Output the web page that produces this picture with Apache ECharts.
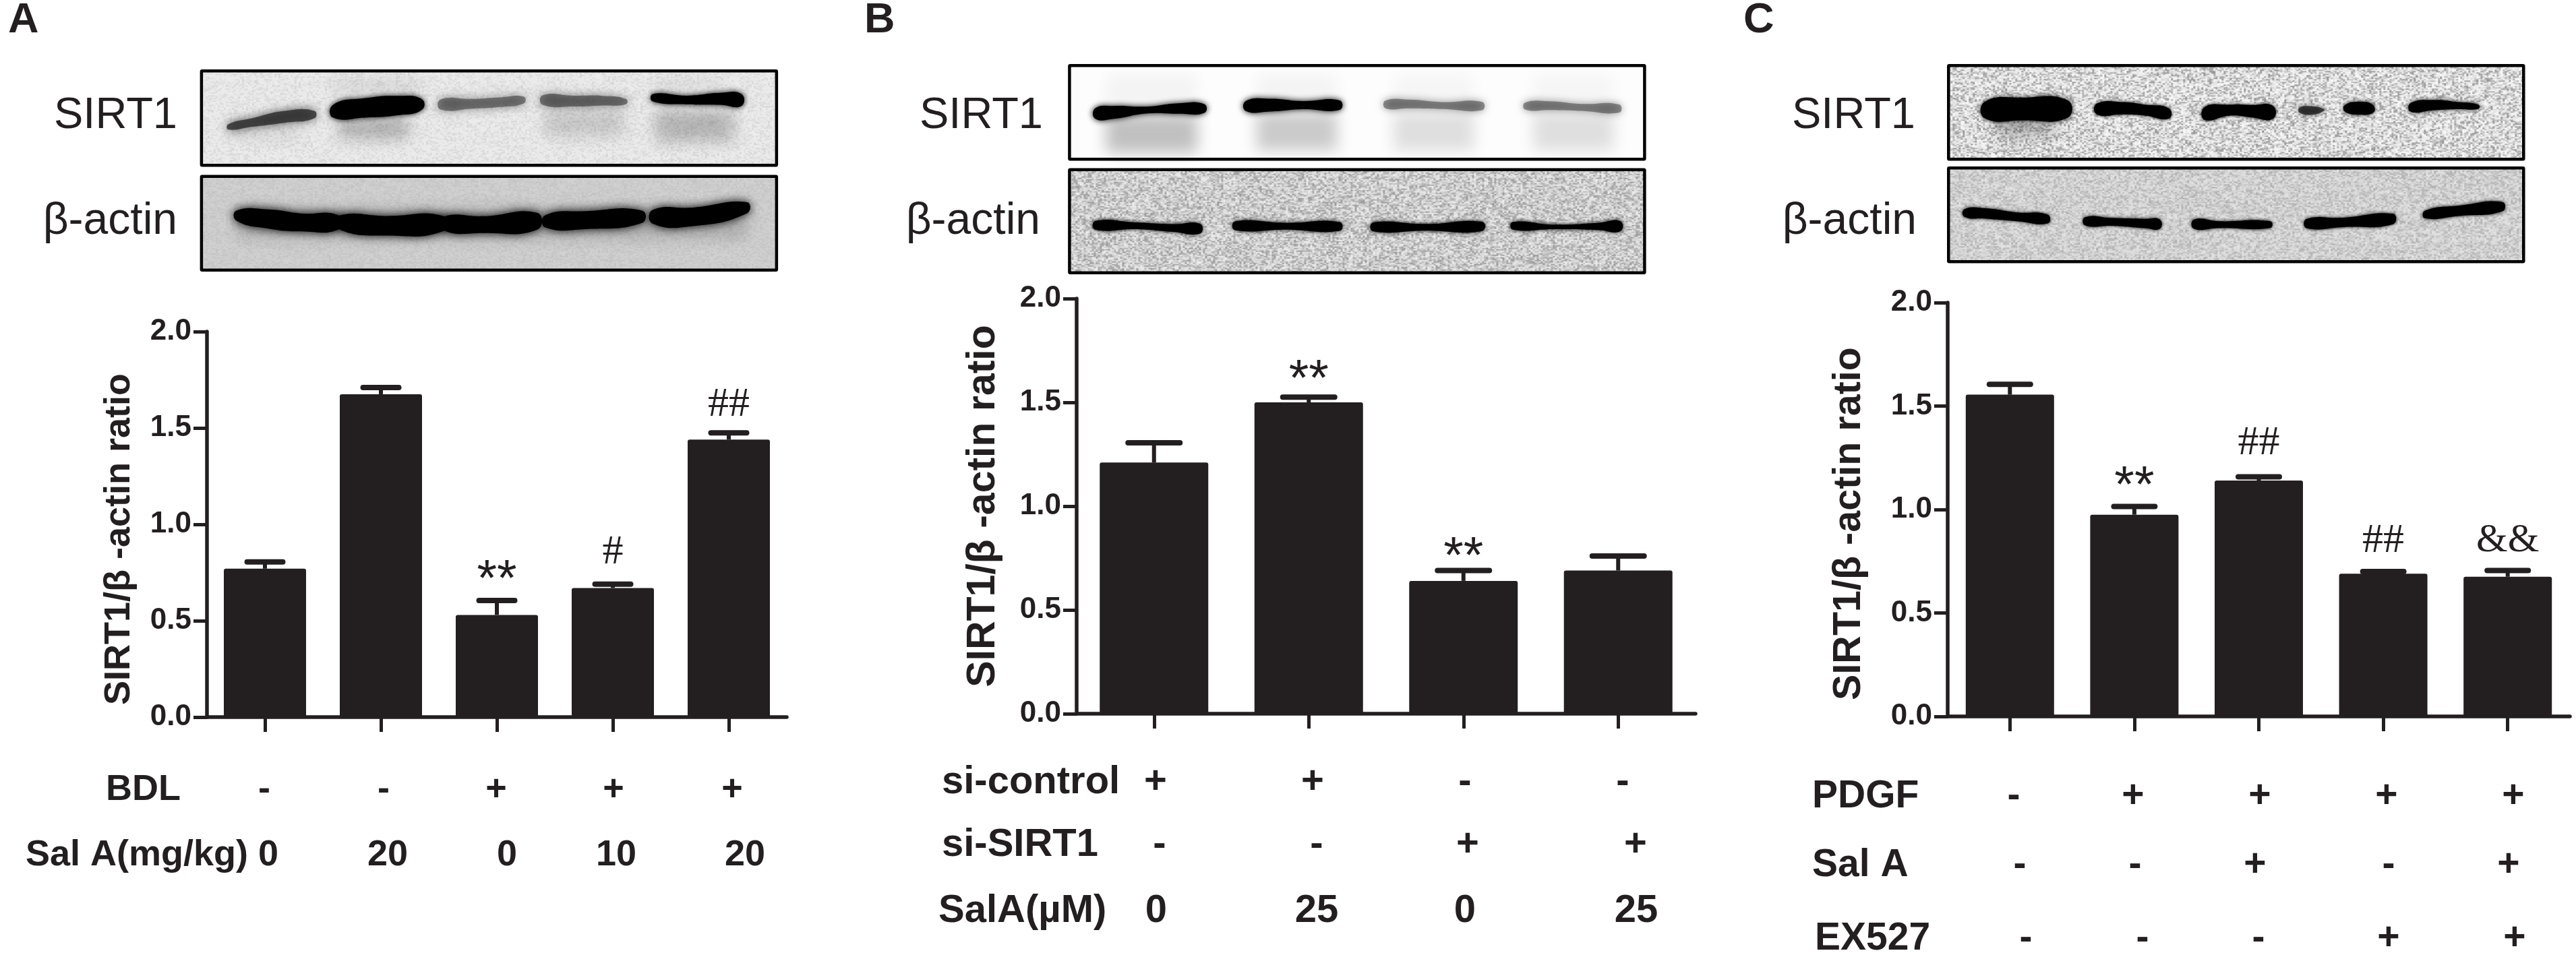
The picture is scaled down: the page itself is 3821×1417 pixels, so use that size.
<!DOCTYPE html>
<html><head><meta charset="utf-8">
<style>html,body{margin:0;padding:0;background:#fff}#c{width:3821px;height:1417px}</style>
<script src="https://cdn.jsdelivr.net/npm/echarts@6/dist/echarts.min.js"></script>
</head><body><div id="c"></div>
<script>
// ---------- chart values ----------
const yTicks = {min:0, max:2, interval:0.5};
const yName = 'SIRT1/β -actin ratio';

const lanesA = ['BDL- Sal0','BDL- Sal20','BDL+ Sal0','BDL+ Sal10','BDL+ Sal20'];
const valuesA = [0.77,1.675,0.53,0.67,1.44];
const errTopA = [0.805,1.71,0.605,0.69,1.475];
const marksA = ['','','**','#','##'];
const rowBDL = ['-','-','+','+','+'];
const rowSalAmg = ['0','20','0','10','20'];

const lanesB = ['ctrl Sal0','ctrl Sal25','siSIRT1 Sal0','siSIRT1 Sal25'];
const valuesB = [1.21,1.5,0.64,0.69];
const errTopB = [1.305,1.525,0.69,0.76];
const marksB = ['','**','**',''];
const rowSiControl = ['+','+','-','-'];
const rowSiSirt = ['-','-','+','+'];
const rowSalAuM = ['0','25','0','25'];

const lanesC = ['ctrl','PDGF','PDGF+SalA','PDGF+EX527','PDGF+SalA+EX527'];
const valuesC = [1.555,0.975,1.14,0.69,0.675];
const errTopC = [1.605,1.015,1.158,0.70,0.705];
const marksC = ['','**','##','##','&&'];
const rowPDGF = ['-','+','+','+','+'];
const rowSalA = ['-','-','+','-','+'];
const rowEX527 = ['-','-','-','+','+'];

// ---------- layout ----------
const INK = '#231f20', SANS = '"Liberation Sans",Arial,sans-serif', SERIF = '"Liberation Serif",serif';
const panels = [
 {id:'A', labelX:12, left:307, right:1167, top:492, bottom:1064, barW:122, capW:61, tickFont:44, nameFont:54, nameX:204, namePad:44, gap:[0,0,29,47,41],
  lanes:lanesA, values:valuesA, errTop:errTopA, marks:marksA, font:54,
  rows:[{t:'BDL',x:157,y:1172,v:rowBDL,xs:[392,569,736,910,1086]},{t:'Sal A(mg/kg)',x:38,y:1269,v:rowSalAmg,xs:[398,575,752,914,1105]}]},
 {id:'B', labelX:1282, left:1597, right:2515, top:443, bottom:1059, barW:161, capW:85, tickFont:44, nameFont:59, nameX:1488, namePad:0, gap:[0,24,18,0],
  lanes:lanesB, values:valuesB, errTop:errTopB, marks:marksB, font:58,
  rows:[{t:'si-control',x:1397,y:1161,v:rowSiControl,xs:[1714,1947,2173,2407]},{t:'si-SIRT1',x:1397,y:1254,v:rowSiSirt,xs:[1720,1953,2177,2426]},{t:'SalA(µM)',x:1392,y:1352,v:rowSalAuM,xs:[1715,1953,2173,2427]}]},
 {id:'C', labelX:2586, left:2889, right:3812, top:449, bottom:1063, barW:131, capW:69, tickFont:44, nameFont:57.5, nameX:2772, namePad:42, gap:[0,28,50,45,44],
  lanes:lanesC, values:valuesC, errTop:errTopC, marks:marksC, font:57,
  rows:[{t:'PDGF',x:2688,y:1182,v:rowPDGF,xs:[2987,3164,3352,3540,3728]},{t:'Sal A',x:2688,y:1284,v:rowSalA,xs:[2996,3167,3345,3543,3721]},{t:'EX527',x:2692,y:1393,v:rowEX527,xs:[3005,3178,3350,3543,3730]}]}
];
const markStyle = {'**':{family:SANS,size:76},'#':{family:SERIF,size:62},'##':{family:SERIF,size:62},'&&':{family:SERIF,size:60}};

// blots: band outlines given as [x,y,halfHeight] in crop coordinates, mapped by ox,kx,ky
const K = .797, KC = .7915, KY = 1/3;
const blots = [
 {ox:0,kx:K,box:[375,316,1445,735],bg:'#e9e9e9',grain:.10,f:1.2,name:'SIRT1',nameR:263,nameY:172,
  smears:[[630,525,130,90,.25],[1015,495,145,110,.15],[1220,490,145,140,.22],[430,575,130,40,.12],[620,350,160,70,.08],[1220,350,130,60,.06]],
  bands:[
  {c:'#2a2a2a',a:.8,b:14,p:[[425,565,10],[470,545,16],[530,520,22],[585,510,14]]},
  {c:'#000',a:1,b:8,p:[[620,495,24],[680,480,36],[740,470,36],[785,465,20]]},
  {c:'#333',a:.55,b:14,p:[[820,465,19],[880,462,18],[930,455,18],[975,445,12]]},
  {c:'#333',a:.6,b:14,p:[[1010,445,18],[1070,450,20],[1120,448,18],[1165,452,10]]},
  {c:'#000',a:1,b:8,p:[[1215,435,14],[1280,445,16],[1340,440,22],[1380,445,22]]}]},
 {ox:0,kx:K,box:[375,785,1445,1202],bg:'#cdcdcd',grain:.06,f:1.25,name:'β-actin',nameR:263,nameY:329,
  smears:[[440,930,950,130,.16]],
  bands:[
  {c:'#000',a:1,b:14,p:[[440,960,18],[500,975,34],[560,990,32],[630,990,25]]},
  {c:'#000',a:1,b:14,p:[[630,990,24],[720,1005,35],[825,995,27]]},
  {c:'#000',a:1,b:14,p:[[825,995,24],[900,1000,30],[1000,985,30]]},
  {c:'#000',a:1,b:14,p:[[1015,985,22],[1090,980,32],[1195,965,22]]},
  {c:'#000',a:1,b:14,p:[[1215,965,25],[1290,965,33],[1390,925,20]]}]},
 {ox:1270,kx:K,box:[397,292,1467,708],bg:'#fdfdfd',grain:0,f:1.3,name:'SIRT1',nameR:1547,nameY:172,
  smears:[[465,510,170,170,.24],[745,500,150,170,.2],[1000,500,150,170,.12],[1260,500,150,170,.12],[465,330,170,150,.04],[745,330,150,150,.04],[1000,330,150,150,.03],[1260,330,150,150,.03]],
  bands:[
  {c:'#000',a:1,b:10,p:[[445,505,18],[480,500,22],[540,490,12],[600,483,18],[648,483,15]]},
  {c:'#000',a:1,b:10,p:[[725,472,17],[770,468,22],[830,468,14],[900,468,16]]},
  {c:'#333',a:.5,b:12,p:[[985,465,13],[1030,463,15],[1090,470,12],[1165,472,14]]},
  {c:'#333',a:.5,b:12,p:[[1245,472,12],[1290,470,15],[1350,478,12],[1420,483,14]]}]},
 {ox:1270,kx:K,box:[397,755,1467,1213],bg:'#cfcfcf',grain:.32,f:1.15,name:'β-actin',nameR:1543,nameY:329,
  smears:[],
  bands:[
  {c:'#000',a:1,b:6,p:[[445,1003,17],[520,1005,13],[590,1015,15],[640,1018,19]]},
  {c:'#000',a:1,b:6,p:[[705,1005,17],[800,1007,13],[900,1008,17]]},
  {c:'#000',a:1,b:6,p:[[962,1010,17],[1060,1012,13],[1165,1008,18]]},
  {c:'#000',a:1,b:6,p:[[1222,1005,15],[1300,1010,9],[1380,1008,14],[1422,1007,20]]}]},
 {ox:2580,kx:KC,box:[392,292,1470,708],bg:'#e2e2e2',grain:.42,f:1.15,name:'SIRT1',nameR:2841,nameY:172,
  smears:[[480,530,110,70,.3]],
  bands:[
  {c:'#000',a:1,b:6,p:[[460,490,32],[530,485,44],[615,485,34]]},
  {c:'#000',a:1,b:5,p:[[670,485,21],[720,482,24],[760,490,21],[805,505,20]]},
  {c:'#000',a:1,b:5,p:[[872,505,25],[920,490,21],[960,495,24],[1000,500,25]]},
  {c:'#222',a:.8,b:6,p:[[1050,490,10],[1075,492,16],[1095,490,4]]},
  {c:'#000',a:.95,b:6,p:[[1135,482,13],[1165,482,25],[1188,485,14]]},
  {c:'#000',a:.95,b:6,p:[[1258,478,17],[1300,468,20],[1345,470,14],[1385,475,8]]}]},
 {ox:2580,kx:KC,box:[392,748,1470,1165],bg:'#d2d2d2',grain:.2,f:1.15,name:'β-actin',nameR:2843,nameY:329,
  smears:[],
  bands:[
  {c:'#000',a:1,b:5,p:[[422,948,15],[460,950,20],[520,965,17],[578,975,17]]},
  {c:'#000',a:1,b:5,p:[[648,985,16],[700,988,15],[760,995,18],[788,998,18]]},
  {c:'#000',a:1,b:5,p:[[852,998,18],[900,1000,13],[995,1000,13]]},
  {c:'#000',a:1,b:5,p:[[1063,995,18],[1130,990,18],[1225,975,20]]},
  {c:'#000',a:1,b:5,p:[[1285,955,15],[1350,938,20],[1430,920,18]]}]}
];

// decorative film grain for the photographed blots (deterministic)
function grainCanvas(w,h,alpha,seed){
  const cv=document.createElement('canvas');cv.width=w;cv.height=h;
  const g=cv.getContext('2d');let s=seed;
  const next=()=>{s=(s*1664525+1013904223)>>>0;return s/4294967296;};
  for(let y=0;y<h;y+=2)for(let x=0;x<w;x+=3){
    const v=next();const d=v<.5;
    g.fillStyle=d?`rgba(0,0,0,${alpha*(.5-v)*1.6})`:`rgba(255,255,255,${alpha*(v-.5)*4})`;
    g.fillRect(x,y,3,2);
  }
  return cv;
}

const graphics=[];
const txt=(text,x,y,font,align,extra)=>Object.assign({type:'text',x,y,z:20,silent:true,style:{text,font,fill:INK,align:align||'left',verticalAlign:'middle'}},extra||{});
const OFF=6000;

blots.forEach((b,i)=>{
  const X=v=>b.ox+v*b.kx, Y=v=>v*KY;
  const [x0,y0,x1,y1]=b.box, w=Math.round(X(x1)-X(x0)), h=Math.round(Y(y1)-Y(y0));
  graphics.push({type:'rect',z:5,silent:true,shape:{x:X(x0),y:Y(y0),width:w,height:h},style:{fill:b.bg}});
  if(b.grain) graphics.push({type:'image',z:6,silent:true,x:X(x0),y:Y(y0),style:{image:grainCanvas(w,h,b.grain,i*7919+13),width:w,height:h}});
  // soft smears: only the blurred shadow of an off-canvas rect lands inside the blot
  b.smears.forEach(s=>graphics.push({type:'rect',z:7,silent:true,shape:{x:X(s[0])-OFF,y:Y(s[1]),width:s[2]*b.kx,height:s[3]*KY},style:{fill:'#000',shadowBlur:22,shadowOffsetX:OFF,shadowColor:`rgba(0,0,0,${s[4]})`}}));
  b.bands.forEach(bd=>{
    const top=bd.p.map(p=>[X(p[0]),Y(p[1]-p[2]*b.f)]), bot=bd.p.slice().reverse().map(p=>[X(p[0]),Y(p[1]+p[2]*b.f)]);
    graphics.push({type:'polygon',z:8,silent:true,shape:{points:top.concat(bot),smooth:.5},style:{fill:bd.c,opacity:bd.a,shadowBlur:bd.b,shadowColor:bd.c}});
  });
  graphics.push({type:'rect',z:9,silent:true,shape:{x:X(x0),y:Y(y0),width:w,height:h,r:1},style:{fill:'none',stroke:'#000',lineWidth:4.5}});
  graphics.push(txt(b.name,b.nameR,b.nameY,'400 '+(b.name==='SIRT1'?65:66)+'px '+SANS,'right'));
});

panels.forEach(p=>{
  graphics.push(txt(p.id,p.labelX,31,'700 63px '+SANS));
  p.rows.forEach(r=>{
    graphics.push(txt(r.t,r.x,r.y,'700 '+p.font+'px '+SANS));
    r.v.forEach((s,i)=>graphics.push(txt(s,r.xs[i],r.y,'700 '+p.font+'px '+SANS,'center')));
  });
});

const option={
  animation:false, backgroundColor:'#fff',
  grid:panels.map(p=>({left:p.left,top:p.top,width:p.right-p.left,height:p.bottom-p.top,containLabel:false})),
  xAxis:panels.map((p,i)=>({type:'category',gridIndex:i,data:p.lanes,
    axisLine:{show:true,lineStyle:{color:INK,width:5.5}},
    axisTick:{show:true,alignWithLabel:true,length:22,lineStyle:{color:INK,width:5}},
    axisLabel:{show:false},splitLine:{show:false}})),
  yAxis:panels.map((p,i)=>({type:'value',gridIndex:i,min:yTicks.min,max:yTicks.max,interval:yTicks.interval,
    name:yName,nameLocation:'middle',nameGap:p.left-p.nameX,nameRotate:90,nameMoveOverlap:false,
    nameTextStyle:{fontFamily:SANS,fontWeight:700,fontSize:p.nameFont,color:INK,padding:[0,p.namePad,0,0]},
    axisLine:{show:true,onZero:false,lineStyle:{color:INK,width:5.5}},
    axisTick:{show:true,length:20,lineStyle:{color:INK,width:5}},
    axisLabel:{show:true,margin:23,color:INK,fontFamily:SANS,fontWeight:700,fontSize:p.tickFont,formatter:v=>v.toFixed(1)},
    splitLine:{show:false}})),
  series:panels.flatMap((p,i)=>[
    {type:'bar',xAxisIndex:i,yAxisIndex:i,data:p.values,barWidth:p.barW,silent:true,z:3,
     itemStyle:{color:INK,borderRadius:[3,3,0,0]}},
    {type:'custom',xAxisIndex:i,yAxisIndex:i,silent:true,z:4,clip:false,
     data:p.lanes.map((l,k)=>[k,p.values[k],p.errTop[k],k]),
     renderItem:(params,api)=>{
       const k=api.value(3),b=api.coord([api.value(0),api.value(1)]),t=api.coord([api.value(0),api.value(2)]);
       const kids=[
         {type:'rect',shape:{x:b[0]-3,y:t[1],width:6,height:b[1]-t[1]},style:{fill:INK}},
         {type:'rect',shape:{x:t[0]-p.capW/2,y:t[1]-4,width:p.capW,height:8,r:4},style:{fill:INK}}];
       const m=p.marks[k];
       if(m){const ms=markStyle[m];kids.push({type:'text',x:t[0],y:t[1]-p.gap[k],style:{text:m,fill:INK,font:'400 '+ms.size+'px '+ms.family,align:'center',verticalAlign:'middle'}});}
       return {type:'group',children:kids};
     }}
  ]),
  graphic:graphics
};
const chart=echarts.init(document.getElementById('c'),null,{renderer:'canvas',width:3821,height:1417});
chart.setOption(option);
</script></body></html>
